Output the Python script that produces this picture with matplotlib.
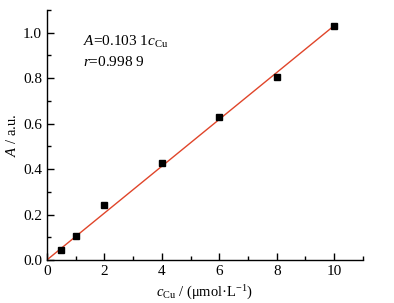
import matplotlib
matplotlib.use("Agg")
import matplotlib.pyplot as plt
import numpy as np
from matplotlib.ticker import MultipleLocator

plt.rcParams['font.family'] = ['Liberation Serif', 'DejaVu Serif']
plt.rcParams['mathtext.fontset'] = 'custom'
plt.rcParams['mathtext.rm'] = 'Liberation Serif'
plt.rcParams['mathtext.it'] = 'Liberation Serif:italic'

conc = [0.5, 1, 2, 4, 6, 8, 10]
absorb = [0.045, 0.107, 0.242, 0.428, 0.630, 0.805, 1.030]
slope = 0.1031
intercept = 0.0
fit_x = [0, 10]

fig = plt.figure(figsize=(3.94, 3.03), dpi=100)
ax = fig.add_axes([0.119, 0.142, 0.802, 0.825])

fx = np.array(fit_x)
ax.plot(fx, slope * fx + intercept, color="#e0452a", lw=1.0, zorder=2)
ax.plot(conc, absorb, "s", color="k", ms=5, zorder=3)

ax.set_xlim(0, 11)
ax.set_ylim(0, 1.1)
ax.xaxis.set_major_locator(MultipleLocator(2))
ax.xaxis.set_minor_locator(MultipleLocator(1))
ax.yaxis.set_major_locator(MultipleLocator(0.2))
ax.yaxis.set_minor_locator(MultipleLocator(0.1))
ax.yaxis.set_major_formatter(plt.FuncFormatter(lambda v, p: "%.1f" % v))
ax.tick_params(which="both", direction="in", labelsize=11, width=1)
ax.tick_params(which="major", length=5)
ax.tick_params(which="minor", length=3)
for s in ["top", "right"]:
    ax.spines[s].set_visible(False)
for s in ["left", "bottom"]:
    ax.spines[s].set_linewidth(1)

ax.set_xlabel(r"$c_{\mathrm{Cu}}$ / (μmol·L$^{-1}$)", fontsize=10.5, labelpad=4)
ax.set_ylabel(r"$A$ / a.u.", fontsize=10.5, labelpad=3)

ax.text(1.25, 0.96, r"$A$=0.103 1$c_{\mathrm{Cu}}$", fontsize=11, va="center")
ax.text(1.25, 0.872, r"$r$=0.998 9", fontsize=11, va="center")

fig.savefig("out.png", dpi=100)
